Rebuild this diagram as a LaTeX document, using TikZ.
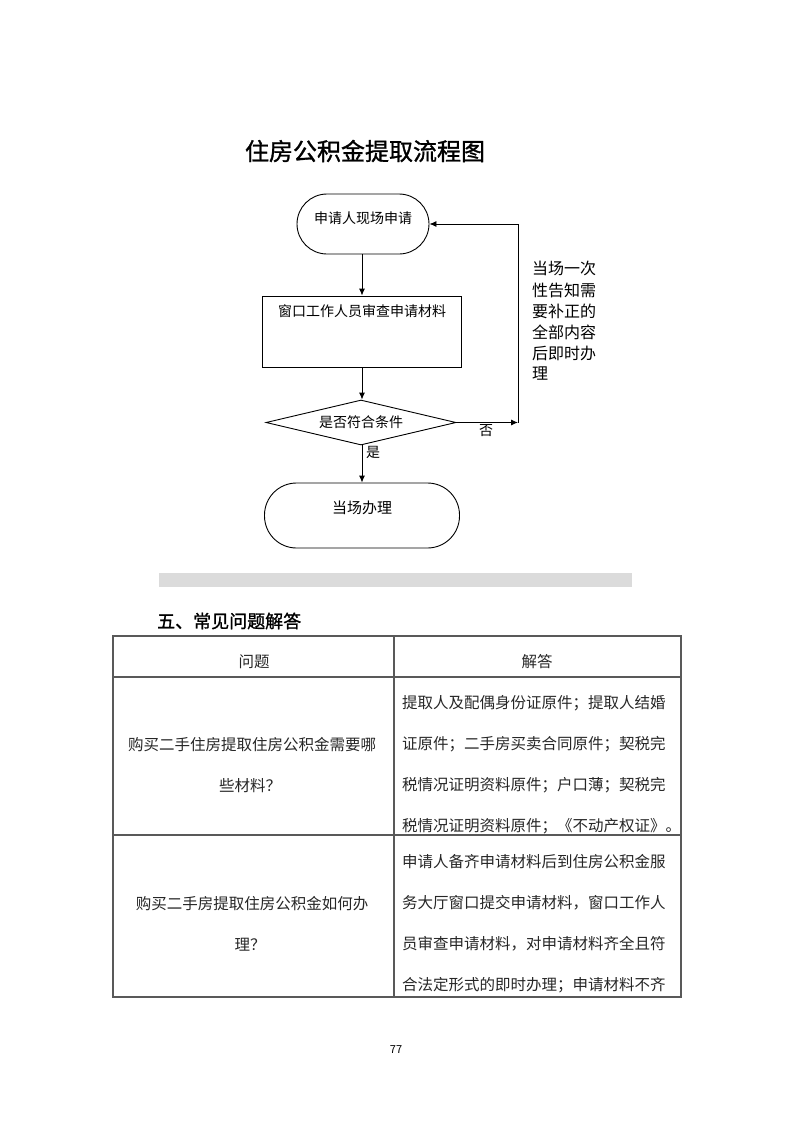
\documentclass[tikz,border=0pt]{standalone}
\usepackage{fontspec}
\setmainfont{Noto Sans CJK SC}
\newfontfamily\medfont[FakeBold=1.2]{Noto Sans CJK SC}
\usetikzlibrary{shapes.geometric,arrows.meta}
\begin{document}
\begin{tikzpicture}[x=1pt,y=-1pt,
  line/.style={draw=black,line width=0.9pt},
  arr/.style={line,-{Latex[length=7pt,width=6pt]}},
  term/.style={draw=black,line width=0.9pt,rectangle,inner sep=0pt},
  fc/.style={font=\fontsize{14}{14}\selectfont,inner sep=0pt},
  side/.style={font=\fontsize{16}{16}\selectfont,inner sep=0pt,anchor=west},
  tl/.style={draw=black!65,line width=1.1pt},
  tt/.style={font=\fontsize{15.5}{15.5}\selectfont,inner sep=0pt,text=black!85},
]
\useasboundingbox (0,0) rectangle (793,1122);
% title
\node[font=\medfont\fontsize{24}{24}\selectfont,inner sep=0pt] (title) at (365,151) {住房公积金提取流程图};
% flowchart
\node[term,minimum width=132pt,minimum height=60pt,rounded corners=30pt] (start) at (363,224) {};
\node[fc] (tstart) at ([yshift=6pt]start.center) {申请人现场申请};
\node[term,minimum width=199pt,minimum height=71pt] (box) at (362,331.5) {};
\node[fc] (tbox) at ([yshift=20pt]box.center) {窗口工作人员审查申请材料};
\node[draw=black,line width=0.9pt,diamond,shape aspect=4.2,minimum width=190pt,minimum height=45pt,inner sep=0pt] (dia) at (361,422.5) {};
\node[fc] (tdia) at (dia.center) {是否符合条件};
\node[term,minimum width=195pt,minimum height=65pt,rounded corners=32pt] (end) at (362,515.5) {};
\node[fc,font=\fontsize{15}{15}\selectfont] (tend) at ([yshift=8pt]end.center) {当场办理};
\draw[arr] (start.south -| box.north) -- (box.north);
\draw[arr] (box.south) -- (dia.north -| box.south);
\draw[arr] (dia.south -| box.south) -- (end.north);
\coordinate (c1) at (518,422.5);
\draw[arr] (dia.east) -- (c1);
\draw[arr] (c1) |- (start.east);
\node[fc] (yes) at (373,452) {是};
\node[fc] (no) at (486,431) {否};
\node[side] (s1) at (532,268) {当场一次};
\node[side] (s2) at (532,290) {性告知需};
\node[side] (s3) at (532,311) {要补正的};
\node[side] (s4) at (532,332) {全部内容};
\node[side] (s5) at (532,353) {后即时办};
\node[side] (s6) at (532,374) {理};
% gray bar
\fill[fill=black!14] (159,573) rectangle (632,587);
% section heading
\node[font=\medfont\fontsize{18}{18}\selectfont,inner sep=0pt,anchor=west] (sec) at (157,621) {五、常见问题解答};
% table
\draw[tl] (113,636) rectangle (681,997);
\draw[tl] (113,677) -- (681,677);
\draw[tl] (113,835) -- (681,835);
\draw[tl] (394,636) -- (394,997);
\node[tt] (h1) at (254,662) {问题};
\node[tt] (h2) at (537,662) {解答};
\node[tt] (q1a) at (252,745) {购买二手住房提取住房公积金需要哪};
\node[tt] (q1b) at (250,786) {些材料？};
\node[tt,anchor=west] (a1a) at (402,703) {提取人及配偶身份证原件；提取人结婚};
\node[tt,anchor=west] (a1b) at (402,744) {证原件；二手房买卖合同原件；契税完};
\node[tt,anchor=west] (a1c) at (402,785) {税情况证明资料原件；户口薄；契税完};
\node[tt,anchor=west] (a1d) at (402,826) {税情况证明资料原件；《不动产权证》。};
\node[tt] (q2a) at (252,904) {购买二手房提取住房公积金如何办};
\node[tt] (q2b) at (250,945) {理？};
\node[tt,anchor=west] (a2a) at (402,862) {申请人备齐申请材料后到住房公积金服};
\node[tt,anchor=west] (a2b) at (402,903) {务大厅窗口提交申请材料，窗口工作人};
\node[tt,anchor=west] (a2c) at (402,944) {员审查申请材料，对申请材料齐全且符};
\node[tt,anchor=west] (a2d) at (402,985) {合法定形式的即时办理；申请材料不齐};
% page number
\node[font=\fontsize{11}{11}\selectfont,inner sep=0pt] (pg) at (396,1050) {77};
\end{tikzpicture}
\end{document}
